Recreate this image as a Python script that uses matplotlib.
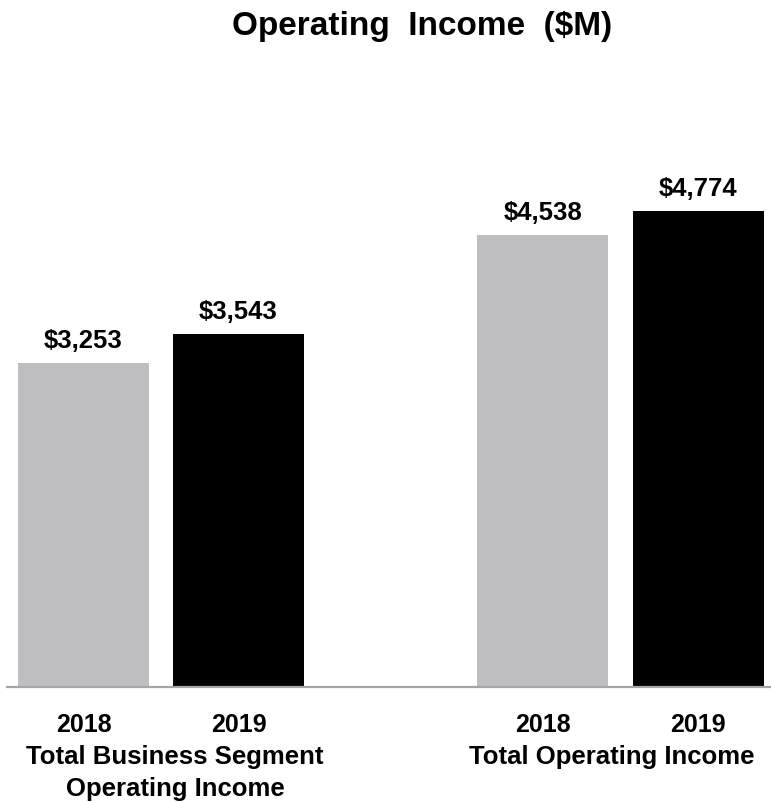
import numpy as np
import matplotlib; matplotlib.use("Agg")
import matplotlib.pyplot as plt
import matplotlib.transforms as mtransforms

plt.rcParams.update({"font.family": ["Liberation Sans", "DejaVu Sans"], "font.weight": "bold"})

groups = [["Total Business Segment", "Operating Income"], ["Total Operating Income"]]
years = ["2018", "2019"]
values_2018 = [3253, 4538]
values_2019 = [3543, 4774]
colors = {"2018": "#BFBEC3", "2019": "#000000"}

W, H = 771, 802
fig = plt.figure(figsize=(W / 100, H / 100), dpi=100)
ax = fig.add_axes([7 / W, 115.5 / H, 764 / W, 497.5 / H])

g = np.arange(len(groups))
off, bw = 0.1687, 0.2851
for k, (yr, vals) in enumerate(zip(years, [values_2018, values_2019])):
    x = g + (-off if k == 0 else off)
    ax.bar(x, vals, width=bw, color=colors[yr], zorder=2)
    for xi, v in zip(x, vals):
        ax.annotate(f"${v:,}", (xi, v), xytext=(0, 11), textcoords="offset points",
                    ha="center", va="baseline", fontsize=18.5, fontweight="bold")

ax.set_xlim(-0.3351, 1.3275)
ax.set_ylim(0, 5000)
for s in ["top", "right", "left"]:
    ax.spines[s].set_visible(False)
ax.spines["bottom"].set_color("#A6A6A6")
ax.spines["bottom"].set_linewidth(1.6)
ax.set_xticks([]); ax.set_yticks([])

# labels below the axis: x in data, y in figure coords (baselines in px from top)
tr = mtransforms.blended_transform_factory(ax.transData, fig.transFigure)
for k, yr in enumerate(years):
    for gi in g:
        ax.text(gi + (-off if k == 0 else off), (H - 732) / H, yr, transform=tr,
                ha="center", va="baseline", fontsize=18, fontweight="bold")
label_x = [0.0305, 0.9815]
for lx, lines in zip(label_x, groups):
    for i, line in enumerate(lines):
        ax.text(lx, (H - 764 - 32 * i) / H, line, transform=tr, ha="center",
                va="baseline", fontsize=18.5, fontweight="bold")

fig.text(422 / W, (H - 35) / H, "Operating  Income  ($M)", ha="center", va="baseline",
         fontsize=24, fontweight="bold")

fig.savefig("out.png", dpi=100)
